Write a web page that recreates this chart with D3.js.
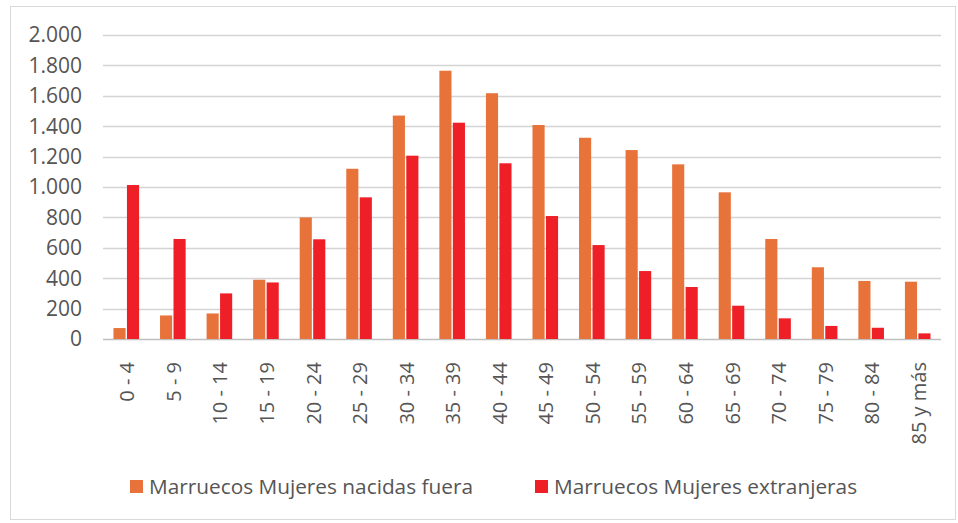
<!DOCTYPE html>
<html>
<head>
<meta charset="utf-8">
<script src="https://cdn.jsdelivr.net/npm/d3@7"></script>
<style>
  body { margin: 0; background: #fff; }
  svg { display: block; font-family: 'Open Sans', sans-serif; }
</style>
</head>
<body>
<svg id="chart" width="958" height="523"></svg>
<script>
// age groups
const categories = ['0 - 4', '5 - 9', '10 - 14', '15 - 19', '20 - 24', '25 - 29', '30 - 34', '35 - 39',
  '40 - 44', '45 - 49', '50 - 54', '55 - 59', '60 - 64', '65 - 69', '70 - 74', '75 - 79', '80 - 84', '85 y más'];
const nacidasFuera = [72, 155, 168, 390, 800, 1120, 1470, 1765, 1617, 1408, 1324, 1243, 1149, 965, 658, 472, 382, 377];
const extranjeras = [1013, 658, 300, 372, 656, 932, 1206, 1423, 1156, 809, 618, 447, 342, 219, 136, 86, 74, 37];
const yTicks = [0, 200, 400, 600, 800, 1000, 1200, 1400, 1600, 1800, 2000];
const seriesNames = ['Marruecos Mujeres nacidas fuera', 'Marruecos Mujeres extranjeras'];

const colors = ['#E8733A', '#EE1F27'];
const textColor = '#555555';

const svg = d3.select('#chart');
const width = 958, height = 523;
const margin = { top: 35, right: 17, bottom: 184, left: 103 };

// outer frame
svg.append('rect')
  .attr('x', 10.5).attr('y', 6.5)
  .attr('width', 945).attr('height', 513)
  .attr('fill', 'none')
  .attr('stroke', '#d9d9d9');

const x = d3.scaleBand()
  .domain(categories)
  .range([margin.left, width - margin.right]);

const y = d3.scaleLinear()
  .domain([0, 2000])
  .range([height - margin.bottom, margin.top]);

const bw = x.bandwidth();
const x1 = d3.scaleBand()
  .domain([0, 1])
  .range([bw / 2 - 12.8, bw / 2 + 12.8])
  .paddingInner(0.1);

// gridlines
svg.append('g')
  .selectAll('line')
  .data(yTicks)
  .join('line')
  .attr('x1', margin.left)
  .attr('x2', width - margin.right)
  .attr('y1', (d) => Math.round(y(d)) + 0.5)
  .attr('y2', (d) => Math.round(y(d)) + 0.5)
  .attr('stroke', (d) => (d === 0 ? '#bfbfbf' : '#d4d4d4'))
  .attr('stroke-width', 1.5);

// y labels
svg.append('g')
  .selectAll('text')
  .data(yTicks)
  .join('text')
  .attr('x', 82)
  .attr('y', (d) => y(d))
  .attr('dy', '0.35em')
  .attr('text-anchor', 'end')
  .attr('fill', textColor)
  .style('font-size', '21px')
  .text((d) => d3.format(',')(d).replace(/,/g, '.'));

// bars
const data = [nacidasFuera, extranjeras];
svg.append('g')
  .selectAll('g')
  .data(data)
  .join('g')
  .attr('fill', (d, i) => colors[i])
  .each(function (vals, si) {
    d3.select(this)
      .selectAll('rect')
      .data(vals)
      .join('rect')
      .attr('x', (d, i) => x(categories[i]) + x1(si))
      .attr('y', (d) => y(d))
      .attr('width', x1.bandwidth())
      .attr('height', (d) => y(0) - y(d));
  });

// x labels (rotated)
svg.append('g')
  .selectAll('text')
  .data(categories)
  .join('text')
  .attr('transform', (d) => `translate(${x(d) + bw / 2 + 1},362) rotate(-90)`)
  .attr('text-anchor', 'end')
  .attr('dy', '0.35em')
  .attr('fill', textColor)
  .style('font-size', '20px')
  .text((d) => d);

// legend
const legendX = [130, 535];
const legend = svg.append('g')
  .selectAll('g')
  .data(seriesNames)
  .join('g')
  .attr('transform', (d, i) => `translate(${legendX[i]},480)`);

legend.append('rect')
  .attr('width', 13).attr('height', 13)
  .attr('fill', (d, i) => colors[i]);

legend.append('text')
  .attr('x', 19)
  .attr('y', 6.5)
  .attr('dy', '0.35em')
  .attr('fill', textColor)
  .style('font-size', '20.8px')
  .text((d) => d);
</script>
</body>
</html>
